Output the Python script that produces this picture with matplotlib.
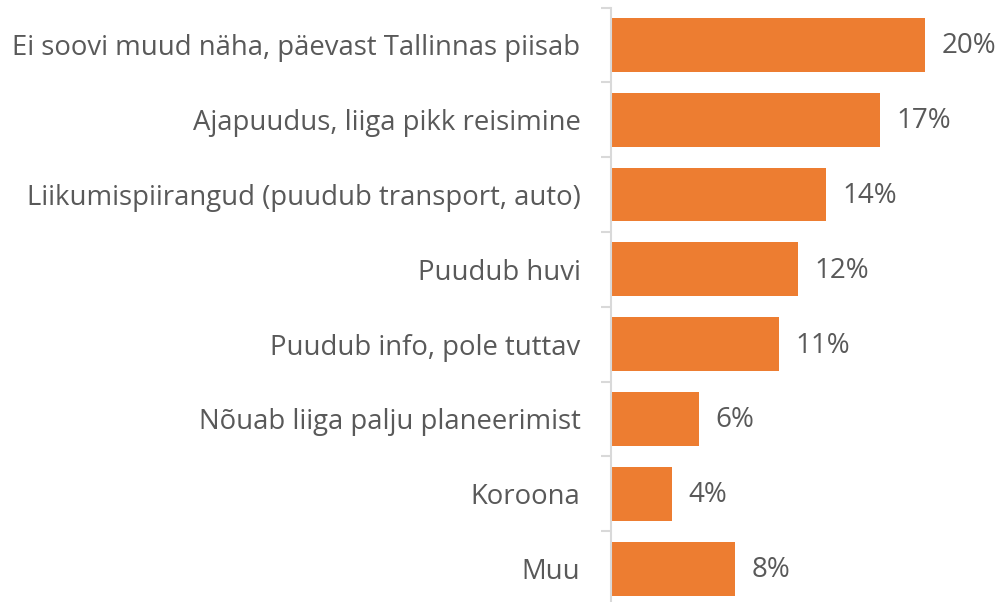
import matplotlib
matplotlib.use("Agg")
import matplotlib.pyplot as plt
import numpy as np

# Data
categories = [
    "Ei soovi muud näha, päevast Tallinnas piisab",
    "Ajapuudus, liiga pikk reisimine",
    "Liikumispiirangud (puudub transport, auto)",
    "Puudub huvi",
    "Puudub info, pole tuttav",
    "Nõuab liiga palju planeerimist",
    "Koroona",
    "Muu",
]
values = [20.0, 17.1, 13.65, 11.9, 10.7, 5.6, 3.9, 7.9]
value_labels = ["20%", "17%", "14%", "12%", "11%", "6%", "4%", "8%"]

BAR = "#ed7d31"
TEXT = "#595959"
AXIS = "#d9d9d9"

plt.rcParams["font.family"] = ["Open Sans", "DejaVu Sans"]

fig = plt.figure(figsize=(10.04, 6.02), dpi=100)
# axis runs slightly past the bottom edge, as in the reference
ax = fig.add_axes([611 / 1004, -4 / 602, 393 / 1004, 598.5 / 602])

y = np.arange(len(categories))
ax.barh(y, values, height=0.72, color=BAR)
ax.set_ylim(len(categories) - 0.5, -0.5)
ax.set_xlim(0, 25)

for yi, v, lab in zip(y, values, value_labels):
    ax.text(v + 1.05, yi + 0.02, lab, va="center", ha="left", fontsize=20, color=TEXT)

ax.set_yticks(y)
ax.set_yticklabels(categories, fontsize=19.8, color=TEXT)
ax.tick_params(axis="y", which="major", length=0, pad=22)
ax.set_yticks(np.arange(-0.5, len(categories) + 0.5, 1), minor=True)
ax.tick_params(axis="y", which="minor", length=7, width=1.5, color=AXIS)
ax.set_xticks([])

for s in ["top", "right", "bottom"]:
    ax.spines[s].set_visible(False)
ax.spines["left"].set_color(AXIS)
ax.spines["left"].set_linewidth(1.5)

fig.savefig("out.png", dpi=100)
